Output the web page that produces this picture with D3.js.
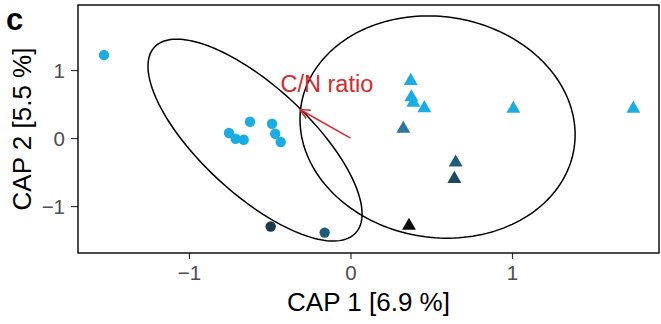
<!DOCTYPE html>
<html>
<head>
<meta charset="utf-8">
<script src="https://cdn.jsdelivr.net/npm/d3@7"></script>
<style>
  body { margin: 0; background: #fff; }
  svg { display: block; font-family: "Liberation Sans", Arial, sans-serif; }
</style>
</head>
<body>
<figure id="cap-plot" style="margin:0"></figure>
<script>
// sample scores on the two CAP axes
const sampleX = [-1.526, -0.752, -0.711, -0.661, -0.622, -0.486, -0.466, -0.432, -0.494, -0.160,
                 0.373, 0.377, 0.389, 0.457, 1.008, 1.751, 0.327, 0.651, 0.643, 0.362];
const sampleY = [1.22, 0.074, -0.010, -0.025, 0.240, 0.210, 0.063, -0.059, -1.300, -1.390,
                 0.840, 0.600, 0.520, 0.440, 0.430, 0.430, 0.137, -0.360, -0.600, -1.290];
const sampleShape = ["circle", "circle", "circle", "circle", "circle", "circle", "circle", "circle", "circle", "circle",
                     "triangle", "triangle", "triangle", "triangle", "triangle", "triangle", "triangle", "triangle", "triangle", "triangle"];
const sampleLevel = ["L1", "L1", "L1", "L1", "L1", "L1", "L1", "L1", "L5", "L3",
                     "L1", "L1", "L1", "L1", "L1", "L1", "L2", "L3", "L4", "L6"];
const levels = ["L1", "L2", "L3", "L4", "L5", "L6"];

// confidence ellipses: centre and the two half-axis vectors (data units)
const ellipseCx = [-0.591, 0.539];
const ellipseCy = [-0.030, 0.162];
const ellipseMajor = [[0.623, -1.365], [0.845, -0.315]];
const ellipseMinor = [[-0.226, -0.582], [-0.106, -1.603]];

// fitted environmental vector
const vectorName = "C/N ratio";
const vectorX = -0.313;
const vectorY = 0.420;

const xTicks = [-1, 0, 1];
const yTicks = [-1, 0, 1];

const width = 661, height = 324;
const panel = { left: 78, right: 659, top: 5, bottom: 253 };

const svg = d3.select("#cap-plot")
  .append("svg")
  .attr("width", width)
  .attr("height", height);

const x = d3.scaleLinear()
  .domain([-1.687, 1.910])
  .range([panel.left, panel.right]);

const y = d3.scaleLinear()
  .domain([-1.69, 1.956])
  .range([panel.bottom, panel.top]);

const colour = d3.scaleOrdinal()
  .domain(levels)
  .range(["#19ade4", "#2878a1", "#205a7a", "#1d4862", "#1b3a4e", "#0d0d0d"]);

// axes
const xAxis = svg.append("g")
  .attr("transform", `translate(0,${panel.bottom})`)
  .call(d3.axisBottom(x).tickValues(xTicks).tickSize(6).tickPadding(6).tickFormat(d3.format("d")));
const yAxis = svg.append("g")
  .attr("transform", `translate(${panel.left},0)`)
  .call(d3.axisLeft(y).tickValues(yTicks).tickSize(7).tickPadding(6).tickFormat(d3.format("d")));

[xAxis, yAxis].forEach(g => {
  g.select(".domain").remove();
  g.selectAll(".tick line").attr("stroke", "#333").attr("stroke-width", 1.2);
  g.selectAll(".tick text")
    .attr("fill", "#4d4d4d")
    .style("font-size", "20.5px")
    .style("font-family", "Liberation Sans, Arial, sans-serif");
});
yAxis.selectAll(".tick text").attr("dy", "0.36em");

// ellipses
const theta = d3.range(0, 2 * Math.PI + 0.001, Math.PI / 90);
const ellipseLine = d3.line()
  .x(d => x(d[0]))
  .y(d => y(d[1]))
  .curve(d3.curveLinearClosed);

ellipseCx.forEach((cx, i) => {
  const pts = theta.map(t => [
    cx + ellipseMajor[i][0] * Math.cos(t) + ellipseMinor[i][0] * Math.sin(t),
    ellipseCy[i] + ellipseMajor[i][1] * Math.cos(t) + ellipseMinor[i][1] * Math.sin(t)
  ]);
  svg.append("path")
    .attr("d", ellipseLine(pts))
    .attr("fill", "none")
    .attr("stroke", "#000")
    .attr("stroke-width", 1.5);
});

// points
const samples = sampleX.map((v, i) => ({ x: v, y: sampleY[i], shape: sampleShape[i], level: sampleLevel[i] }));

svg.selectAll("circle.sample")
  .data(samples.filter(d => d.shape === "circle"))
  .enter()
  .append("circle")
  .attr("class", "sample")
  .attr("cx", d => x(d.x))
  .attr("cy", d => y(d.y))
  .attr("r", 5.2)
  .style("fill", d => colour(d.level));

svg.selectAll("path.sample")
  .data(samples.filter(d => d.shape === "triangle"))
  .enter()
  .append("path")
  .attr("class", "sample")
  .attr("d", d3.symbol().type(d3.symbolTriangle).size(84))
  .attr("transform", d => `translate(${x(d.x)},${y(d.y)})`)
  .style("fill", d => colour(d.level));

// arrow for C/N ratio
const x0 = x(0), y0 = y(0), x1 = x(vectorX), y1 = y(vectorY);
const ang = Math.atan2(y1 - y0, x1 - x0);
const headLen = 11;
svg.append("line")
  .attr("x1", x0).attr("y1", y0)
  .attr("x2", x1).attr("y2", y1)
  .attr("stroke", "#d62a2d")
  .attr("stroke-width", 1.5);
svg.append("path")
  .attr("d", `M${x1 + headLen * Math.cos(ang + Math.PI - 0.45)},${y1 + headLen * Math.sin(ang + Math.PI - 0.45)}L${x1},${y1}L${x1 + headLen * Math.cos(ang + Math.PI + 0.45)},${y1 + headLen * Math.sin(ang + Math.PI + 0.45)}`)
  .attr("fill", "none")
  .attr("stroke", "#d62a2d")
  .attr("stroke-width", 1.5);

svg.append("text")
  .attr("x", x(-0.146))
  .attr("y", y(0.68))
  .attr("text-anchor", "middle")
  .style("font-size", "23.5px")
  .style("fill", "#d62a2d")
  .text(vectorName);

// panel border
svg.append("rect")
  .attr("x", panel.left)
  .attr("y", panel.top)
  .attr("width", panel.right - panel.left)
  .attr("height", panel.bottom - panel.top)
  .attr("fill", "none")
  .attr("stroke", "#000")
  .attr("stroke-width", 1.4);

// titles
svg.append("text")
  .attr("text-anchor", "middle")
  .attr("x", (panel.left + panel.right) / 2)
  .attr("y", 311)
  .style("font-size", "26px")
  .text("CAP 1 [6.9 %]");

svg.append("text")
  .attr("text-anchor", "middle")
  .attr("transform", "rotate(-90)")
  .attr("x", -(panel.top + panel.bottom) / 2)
  .attr("y", 31)
  .style("font-size", "26px")
  .text("CAP 2 [5.5 %]");

svg.append("text")
  .attr("x", 6)
  .attr("y", 30)
  .style("font-size", "31px")
  .style("font-weight", "bold")
  .text("c");
</script>
</body>
</html>
